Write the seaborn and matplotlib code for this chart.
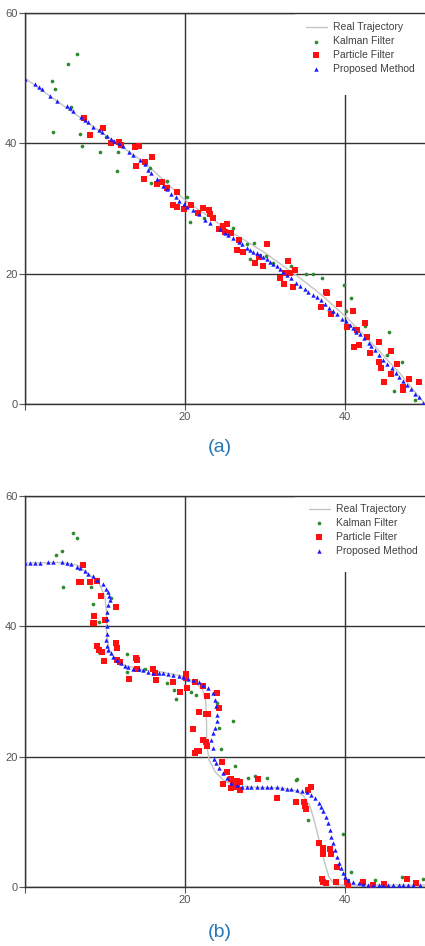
import pandas as pd
import seaborn as sns
import matplotlib.pyplot as plt
from matplotlib.patches import Rectangle

# ---- panel (a): straight-ish descending trajectory ----
a_real = [(0, 50), (5, 45.6), (10, 41.3), (15, 37), (20, 31.3), (25, 27), (30, 23.2),
          (34.4, 19.3), (37, 16.8), (40.2, 13.3), (44, 8.5), (47, 4.5), (50, 0)]

a_kalman = [(6.5, 53.7), (5.4, 52.1), (3.4, 49.6), (3.8, 48.3), (5.8, 45.5), (3.5, 41.7),
            (6.9, 41.5), (7.1, 39.6), (9.4, 38.6), (11.6, 38.6), (11.5, 35.8), (10.1, 41.0),
            (15.6, 36.2), (15.7, 33.9), (17.8, 34.2), (20.2, 31.7), (20.6, 27.9), (22.4, 28.6),
            (26.0, 27.0), (28.6, 24.7), (27.7, 24.5), (28.1, 22.2), (30.1, 22.7), (31.0, 21.7),
            (33.3, 21.2), (35.1, 20.0), (36.0, 20.0), (37.1, 19.4), (39.9, 18.3), (40.8, 16.3),
            (40.1, 14.3), (42.5, 12.0), (45.5, 11.1), (45.2, 7.5), (47.1, 6.5), (46.1, 2.0),
            (48.8, 0.6)]

a_particle = [(7.4, 43.9), (9.7, 42.3), (8.1, 41.3), (10.7, 40.1), (11.8, 40.2), (12.0, 39.7),
              (13.75, 39.5), (14.3, 39.6), (15.9, 37.9), (15.0, 37.2), (13.9, 36.5), (14.9, 34.5),
              (16.5, 33.8), (17.1, 34.0), (17.8, 33.1), (19.0, 32.5), (18.5, 30.5), (19.0, 30.3),
              (19.9, 29.9), (20.8, 30.5), (22.2, 30.1), (21.6, 29.3), (23.0, 29.7), (23.5, 28.6),
              (23.1, 29.2), (24.2, 26.8), (24.7, 27.3), (25.3, 27.6), (25.0, 26.4), (25.8, 26.3),
              (26.8, 25.2), (26.5, 23.7), (27.3, 23.4), (28.75, 21.7), (29.2, 22.6), (29.7, 21.2),
              (30.2, 24.5), (32.9, 22.0), (32.5, 20.1), (33.1, 20.1), (33.75, 20.5), (31.9, 19.3),
              (32.4, 18.4), (33.5, 18.0), (37.6, 17.2), (37.8, 17.1), (37.0, 14.9), (38.3, 13.8),
              (39.3, 15.3), (41.0, 14.2), (40.3, 11.8), (42.5, 12.4), (41.5, 11.4), (42.7, 10.3),
              (41.7, 9.1), (41.1, 8.7), (44.2, 9.5), (43.1, 7.8), (45.7, 8.1), (44.2, 6.5),
              (44.5, 5.5), (45.7, 4.6), (46.5, 6.1), (44.9, 3.4), (47.3, 2.6), (48.0, 3.8),
              (49.3, 3.3), (47.3, 2.1)]

a_proposed = [(0.0, 49.9), (1.25, 49.05), (1.7, 48.7), (2.1, 48.3), (3.1, 47.3), (4.0, 46.5),
              (5.2, 45.8), (5.6, 45.4), (6.0, 44.9), (7.0, 44.0), (7.5, 43.6), (7.9, 43.2),
              (8.5, 42.5), (9.2, 42.0), (9.6, 41.7), (10.3, 41.1), (10.7, 40.7), (11.1, 40.4),
              (11.7, 40.0), (12.3, 39.6), (13.0, 38.7), (13.5, 38.2), (14.4, 37.4), (15.0, 36.8),
              (15.4, 35.9), (15.8, 35.4), (16.5, 34.5), (17.3, 33.5), (17.7, 33.0), (18.3, 32.3),
              (18.9, 31.7), (19.3, 31.2), (19.9, 30.7), (20.2, 30.3), (21.0, 29.8), (21.7, 29.1),
              (22.5, 28.3), (23.1, 27.7), (24.4, 26.8), (25.0, 26.3), (25.4, 25.9), (26.0, 25.4),
              (26.7, 24.9), (27.1, 24.5), (27.7, 24.0), (28.1, 23.7), (28.5, 23.4), (29.0, 23.2),
              (29.4, 22.9), (29.8, 22.6), (30.2, 22.2), (30.6, 21.8), (31.0, 21.5), (31.5, 21.1),
              (31.9, 20.7), (32.3, 20.3), (32.8, 19.8), (33.3, 19.3), (33.9, 18.5), (34.4, 18.1),
              (35.0, 17.6), (35.4, 17.2), (36.0, 16.7), (36.5, 16.4), (37.0, 15.9), (37.5, 15.4),
              (38.0, 14.8), (38.5, 14.3), (39.0, 13.8), (39.6, 13.1), (40.1, 12.7), (40.6, 12.1),
              (41.0, 11.6), (41.4, 11.1), (41.9, 10.7), (42.4, 10.1), (43.0, 9.4), (43.3, 8.9),
              (43.8, 8.3), (44.3, 7.5), (44.8, 6.7), (45.3, 6.2), (45.9, 5.5), (46.4, 4.8),
              (46.8, 4.2), (47.3, 3.6), (47.8, 2.9), (48.2, 2.3), (48.8, 1.5), (49.2, 1.0),
              (49.7, 0.1)]

# ---- panel (b): stepped trajectory ----
b_real = [(0, 49.7), (4.5, 49.8), (6.5, 49.4), (8.0, 48.0), (9.3, 46.5), (10.0, 44.5),
          (10.2, 42), (10.2, 39), (10.5, 36.5), (11.3, 35), (12.5, 34), (14.5, 33.4),
          (17, 33), (19.5, 32.4), (21.2, 31.5), (22.2, 30.3), (22.6, 28.5), (22.7, 25),
          (22.7, 22), (23.0, 19.5), (23.8, 17.6), (25.0, 16.2), (26.5, 15.5), (29, 15.3),
          (32, 15.2), (33.8, 14.8), (34.8, 14.0), (35.6, 12.5), (36.2, 10), (36.8, 7),
          (37.4, 4), (38.0, 1.5), (38.8, 0.3), (45, 0.3), (50, 0.3)]

b_kalman = [(6.0, 54.3), (6.5, 53.5), (4.6, 51.6), (3.9, 51.0), (7.0, 49.4), (4.7, 46.1),
            (8.3, 46.0), (8.5, 43.5), (10.7, 44.3), (9.2, 40.7), (9.25, 36.0), (12.8, 35.7),
            (12.7, 33.0), (15.0, 33.5), (17.7, 31.35), (18.6, 30.3), (20.7, 30.0), (18.9, 28.8),
            (21.4, 29.4), (23.95, 28.3), (26.0, 25.5), (24.3, 24.4), (24.5, 21.1), (26.25, 18.5),
            (27.9, 16.8), (28.8, 17.0), (30.2, 16.8), (33.9, 16.4), (34.0, 16.5), (35.4, 10.3),
            (39.7, 8.1), (40.8, 2.35), (47.1, 1.5), (43.75, 1.0), (49.8, 1.3)]

b_particle = [(7.3, 49.4), (6.8, 46.85), (7.0, 46.85), (8.1, 46.8), (9.0, 47.0), (9.5, 44.65),
              (11.4, 42.9), (8.6, 41.6), (8.5, 40.5), (8.6, 40.5), (10.0, 41.0), (11.4, 37.5),
              (11.5, 36.7), (9.0, 37.0), (9.3, 36.4), (9.6, 36.0), (9.9, 34.7), (11.5, 34.8),
              (11.9, 34.6), (13.9, 35.2), (14.0, 34.8), (14.0, 33.4), (13.0, 31.9), (16.0, 33.4),
              (16.3, 32.9), (16.4, 31.7), (18.5, 31.5), (19.4, 30.0), (20.1, 32.7), (20.1, 32.0),
              (20.2, 30.6), (21.2, 31.5), (22.3, 30.9), (22.8, 29.3), (24.0, 29.8), (24.2, 27.4),
              (21.7, 26.9), (22.6, 26.6), (22.9, 26.6), (21.0, 24.2), (22.3, 22.6), (22.6, 22.2),
              (22.8, 21.7), (21.5, 20.8), (21.7, 20.8), (21.3, 20.5), (24.6, 19.2), (25.2, 17.7),
              (25.7, 16.6), (26.0, 16.1), (26.5, 16.2), (26.9, 16.1), (24.75, 15.8), (25.7, 15.2),
              (26.9, 14.9), (26.5, 15.3), (29.1, 16.6), (31.5, 13.6), (33.9, 13.0), (34.9, 13.0),
              (35.0, 12.4), (35.1, 12.0), (35.8, 15.3), (35.4, 14.9), (36.7, 6.7), (37.3, 6.0),
              (38.1, 5.8), (38.2, 5.1), (37.3, 5.0), (39.0, 3.1), (37.1, 1.3), (37.3, 0.8),
              (37.6, 0.6), (38.9, 0.7), (40.3, 0.7), (40.4, 0.1), (42.3, 0.7), (43.5, 0.3),
              (44.9, 0.4), (47.8, 1.2), (48.9, 0.6)]

b_proposed = [(0.0, 49.7), (0.6, 49.7), (1.25, 49.7), (1.9, 49.7), (2.9, 49.8), (3.5, 49.8),
              (4.6, 49.8), (5.2, 49.7), (5.8, 49.5), (6.5, 49.15), (6.9, 48.9), (7.5, 48.5),
              (7.9, 48.1), (8.5, 47.7), (9.0, 47.1), (9.7, 46.5), (10.1, 45.8), (10.4, 45.2),
              (10.5, 44.7), (10.6, 44.1), (10.4, 43.3), (10.3, 42.25), (10.3, 41.1), (10.3, 40.0),
              (10.2, 38.9), (10.1, 37.9), (10.2, 37.0), (10.4, 36.4), (10.7, 35.9), (11.0, 35.3),
              (11.5, 34.8), (12.0, 34.3), (12.5, 33.9), (12.9, 33.7), (13.5, 33.5), (14.2, 33.4),
              (14.8, 33.3), (15.4, 33.0), (16.0, 32.9), (16.7, 32.8), (17.3, 32.8), (17.9, 32.7),
              (18.5, 32.5), (19.2, 32.4), (19.8, 32.2), (20.4, 31.9), (21.0, 31.7), (21.7, 31.4),
              (22.3, 31.0), (22.9, 30.5), (23.5, 29.7), (23.8, 28.7), (23.9, 27.7), (24.0, 26.4),
              (24.0, 25.4), (23.7, 24.4), (23.5, 23.6), (23.3, 22.6), (23.5, 21.3), (23.6, 19.7),
              (23.9, 19.0), (24.3, 18.2), (24.7, 17.5), (25.2, 16.8), (25.8, 16.0), (26.5, 15.6),
              (27.1, 15.4), (27.7, 15.3), (28.3, 15.3), (29.0, 15.3), (29.6, 15.3), (30.2, 15.3),
              (30.8, 15.3), (31.5, 15.3), (32.1, 15.2), (32.7, 15.1), (33.3, 15.0), (34.0, 14.9),
              (34.6, 14.8), (35.2, 14.6), (35.7, 14.1), (36.25, 13.6), (36.7, 12.9), (37.0, 12.3),
              (37.3, 11.6), (37.6, 10.7), (37.9, 9.8), (38.1, 8.8), (38.3, 7.7), (38.5, 6.7),
              (38.8, 5.7), (39.0, 4.6), (39.25, 3.7), (39.5, 2.9), (39.7, 2.1), (40.0, 1.5),
              (40.4, 1.0), (41.0, 0.7), (41.7, 0.6), (42.3, 0.4), (42.9, 0.3), (43.5, 0.3),
              (44.2, 0.3), (44.8, 0.3), (45.4, 0.3), (46.0, 0.3), (46.7, 0.3), (47.3, 0.3),
              (47.9, 0.3), (48.5, 0.3), (49.4, 0.3)]

series_names = ['Real Trajectory', 'Kalman Filter', 'Particle Filter', 'Proposed Method']
panel_labels = ['(a)', '(b)']
x_ticks = [0, 20, 40]
x_tick_labels = ['', '20', '40']
y_ticks = [0, 20, 40, 60]

sns.set_style('white')
plt.rcParams['font.family'] = ['Liberation Sans Narrow', 'Liberation Sans', 'DejaVu Sans']

GRID = '#333333'
TXT = '#555555'


def to_df(pairs):
    return pd.DataFrame(pairs, columns=['x', 'y'])


def draw_panel(ax, real, kalman, particle, proposed, legend_x, legend_y, box_y0):
    ax.set_axisbelow(True)
    ax.grid(True, color=GRID, linewidth=1.0)
    # white legend box hides the grid behind it
    ax.add_patch(Rectangle((0.675, box_y0), 0.33, 0.997 - box_y0, transform=ax.transAxes,
                           facecolor='white', edgecolor='none', zorder=0.8))

    sns.lineplot(data=to_df(real), x='x', y='y', sort=False, estimator=None,
                 color='#c4c4c4', linewidth=1.0, ax=ax, label=series_names[0], zorder=2)
    sns.scatterplot(data=to_df(kalman), x='x', y='y', marker='o', s=7, color='#2e8b2e',
                    linewidth=0, ax=ax, label=series_names[1], zorder=3)
    sns.scatterplot(data=to_df(particle), x='x', y='y', marker='s', s=13, color='#ff1010',
                    linewidth=0, ax=ax, label=series_names[2], zorder=3)
    sns.scatterplot(data=to_df(proposed), x='x', y='y', marker='^', s=10, color='#1a1aff',
                    linewidth=0, ax=ax, label=series_names[3], zorder=4)

    ax.set_xlim(0, 50)
    ax.set_ylim(0, 60)
    ax.set_xticks(x_ticks)
    ax.set_xticklabels(x_tick_labels)
    ax.set_yticks(y_ticks)
    ax.set_xlabel('')
    ax.set_ylabel('')
    ax.tick_params(direction='out', length=4, width=0.8, color=TXT, labelsize=8,
                   labelcolor=TXT, pad=1.5, left=True, bottom=True)
    for side in ['left', 'bottom', 'top']:
        ax.spines[side].set_color(GRID)
        ax.spines[side].set_linewidth(1.0)
    ax.spines['right'].set_visible(False)

    leg = ax.legend(loc='upper left', bbox_to_anchor=(legend_x, legend_y), frameon=False,
                    borderpad=0, borderaxespad=0, handlelength=2.0, handletextpad=0.55,
                    labelspacing=0.37, prop={'family': 'Liberation Sans', 'size': 7.5})
    for t in leg.get_texts():
        t.set_color('#404040')


fig = plt.figure(figsize=(4.25, 9.46), dpi=100)
ax_a = fig.add_axes([25 / 425, 542 / 946, 400 / 425, 391 / 946])
ax_b = fig.add_axes([25 / 425, 59 / 946, 400 / 425, 391 / 946])

draw_panel(ax_a, a_real, a_kalman, a_particle, a_proposed, 0.7025, 0.976, 0.790)
draw_panel(ax_b, b_real, b_kalman, b_particle, b_proposed, 0.71, 0.979, 0.806)

fig.text(220 / 425, 1 - 447 / 946, panel_labels[0], ha='center', va='center',
         fontsize=14, color='#2878b8', family='Liberation Sans')
fig.text(220 / 425, 1 - 932 / 946, panel_labels[1], ha='center', va='center',
         fontsize=14, color='#2878b8', family='Liberation Sans')

fig.savefig('out.png', dpi=100)
